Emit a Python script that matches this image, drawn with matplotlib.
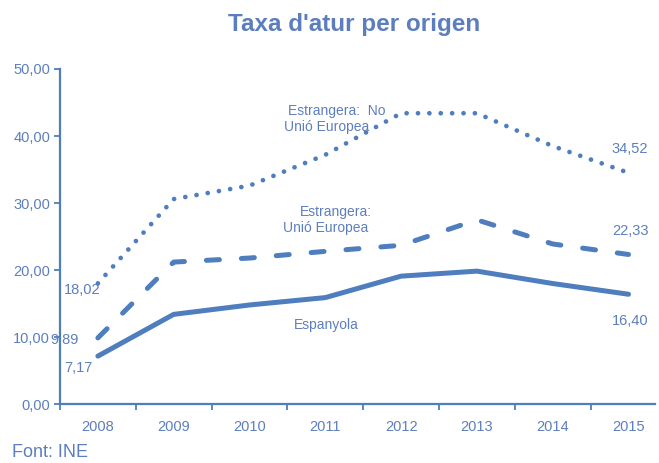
import matplotlib
matplotlib.use("Agg")
import matplotlib.pyplot as plt

plt.rcParams["font.family"] = ["Liberation Sans", "DejaVu Sans"]

years = ["2008", "2009", "2010", "2011", "2012", "2013", "2014", "2015"]
espanyola = [7.17, 13.4, 14.8, 15.9, 19.1, 19.85, 18.0, 16.40]
estr_ue = [9.89, 21.2, 21.8, 22.8, 23.7, 27.5, 23.9, 22.33]
estr_no_ue = [18.02, 30.6, 32.6, 37.2, 43.4, 43.4, 38.5, 34.52]
yticks = [0, 10, 20, 30, 40, 50]

line_c = "#4F7EBE"
text_c = "#5D7EBE"
fs = 10.5
fa = 10

fig = plt.figure(figsize=(6.59, 4.63), dpi=100)
ax = fig.add_axes([0.091, 0.127, 0.903, 0.724])
x = list(range(len(years)))

ax.plot(x, espanyola, color=line_c, lw=3.6, solid_capstyle="round",
        solid_joinstyle="round")
ax.plot(x, estr_ue, color=line_c, lw=3.6, dash_capstyle="round",
        linestyle=(0, (2.6, 4.4)))
ax.plot(x, estr_no_ue, color=line_c, lw=3.4, dash_capstyle="round",
        linestyle=(0, (0.01, 2.4)))

ax.set_xlim(-0.5, 7.35)
ax.set_ylim(0, 50)
ax.set_yticks(yticks)
ax.set_yticklabels([f"{v:.2f}".replace(".", ",") for v in yticks])
ax.set_xticks([i - 0.5 for i in range(len(years))])
ax.set_xticklabels([])
for i, y in enumerate(years):
    ax.text(i, -2.4, y, ha="center", va="top", color=text_c, fontsize=fs)

for s in ["top", "right"]:
    ax.spines[s].set_visible(False)
for s in ["left", "bottom"]:
    ax.spines[s].set_color(line_c)
    ax.spines[s].set_linewidth(1.6)
ax.tick_params(axis="both", colors=line_c, labelcolor=text_c, labelsize=fs,
               length=4, width=1.3)
ax.tick_params(axis="y", pad=3)

def fmt(v):
    return f"{v:.2f}".replace(".", ",")

ax.text(-0.45, 17.0, fmt(estr_no_ue[0]), color=text_c, fontsize=fs, ha="left", va="center")
ax.text(-0.25, 9.6, fmt(estr_ue[0]), color=text_c, fontsize=fs, ha="right", va="center")
ax.text(-0.45, 5.4, fmt(espanyola[0]), color=text_c, fontsize=fs, ha="left", va="center")
ax.text(7.02, 38.1, fmt(estr_no_ue[-1]), color=text_c, fontsize=fs, ha="center", va="center")
ax.text(7.02, 25.8, fmt(estr_ue[-1]), color=text_c, fontsize=fs, ha="center", va="center")
ax.text(7.02, 12.4, fmt(espanyola[-1]), color=text_c, fontsize=fs, ha="center", va="center")

ax.text(3.15, 43.8, "Estrangera:  No", color=text_c, fontsize=fa, ha="center", va="center")
ax.text(3.02, 41.3, "Unió Europea", color=text_c, fontsize=fa, ha="center", va="center")
ax.text(3.14, 28.7, "Estrangera:", color=text_c, fontsize=fa, ha="center", va="center")
ax.text(3.01, 26.3, "Unió Europea", color=text_c, fontsize=fa, ha="center", va="center")
ax.text(3.01, 11.8, "Espanyola", color=text_c, fontsize=fa, ha="center", va="center")

fig.text(0.538, 0.948, "Taxa d'atur per origen", color=text_c, fontsize=17.5,
         fontweight="bold", ha="center", va="center")
fig.text(0.018, 0.004, "Font: INE", color=text_c, fontsize=13, ha="left", va="bottom")

fig.savefig("out.png", dpi=100)
